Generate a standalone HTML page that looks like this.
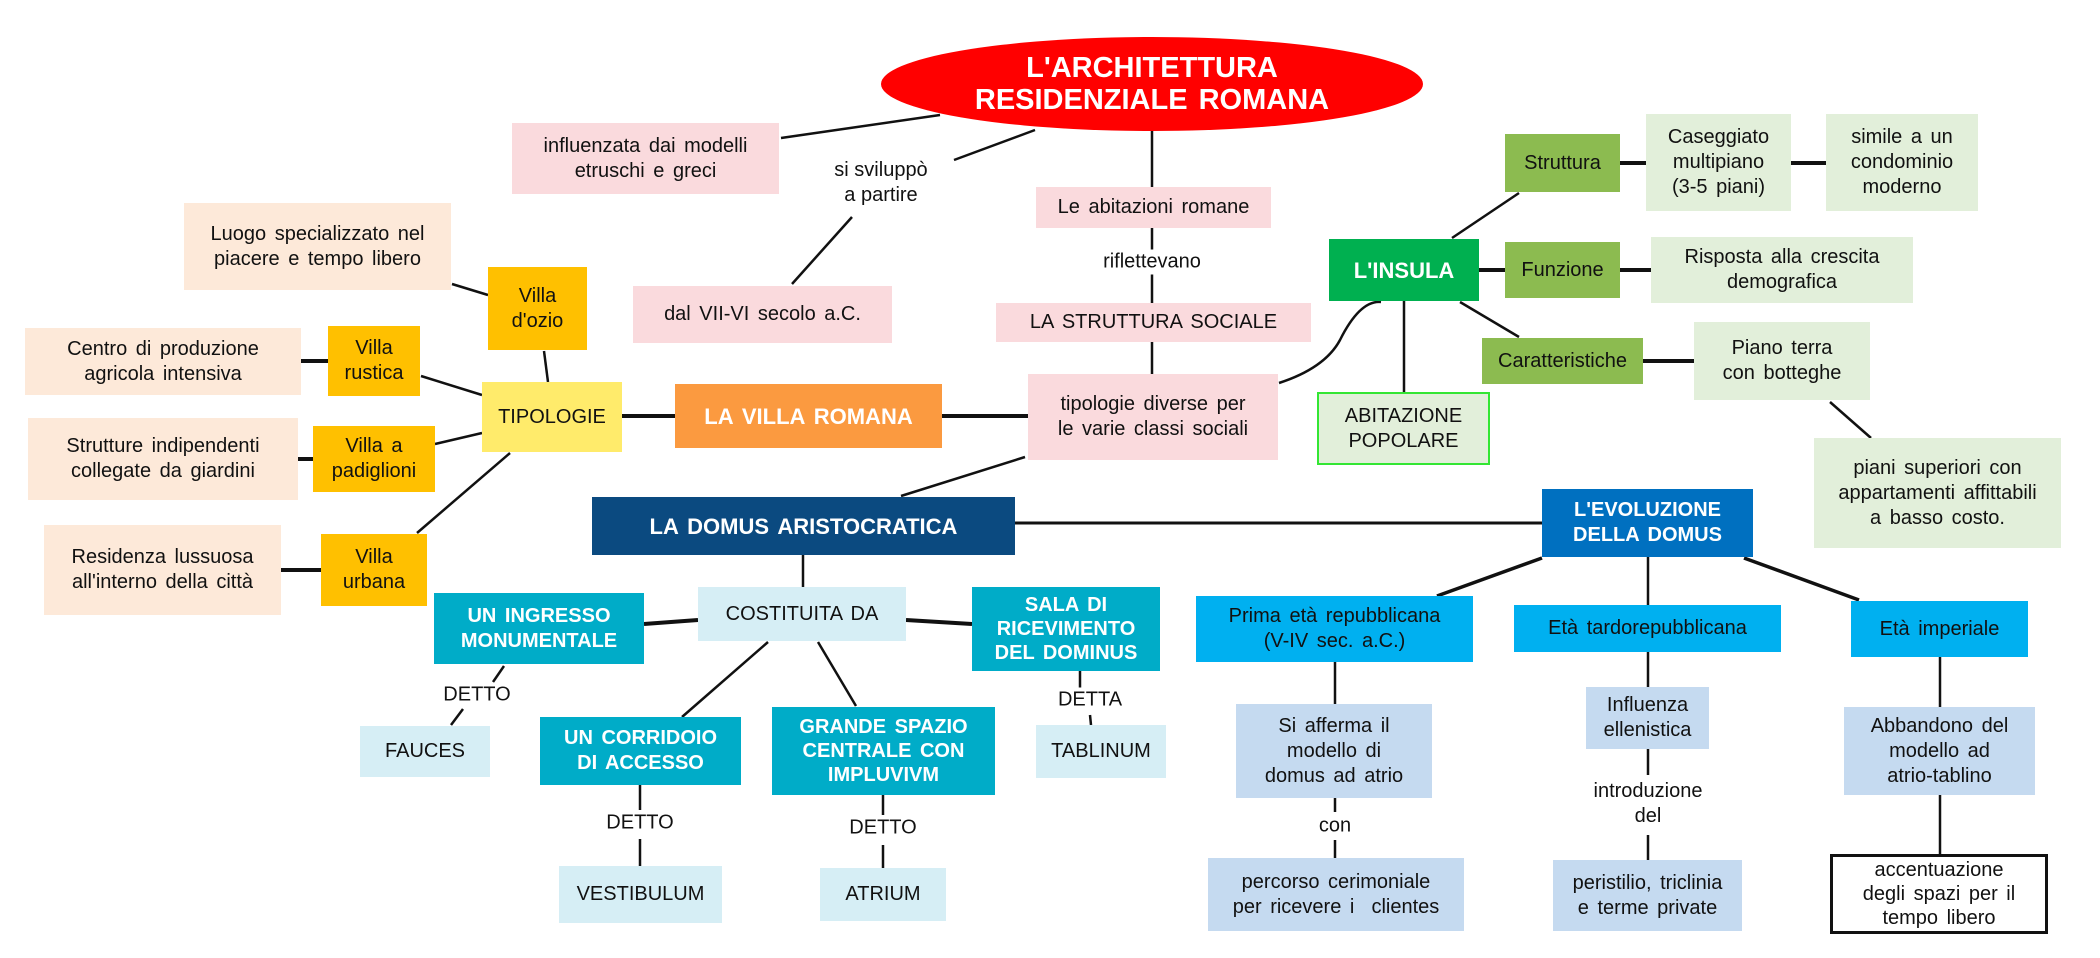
<!DOCTYPE html>
<html><head><meta charset="utf-8"><style>
*{margin:0;padding:0;box-sizing:border-box}
body{width:2100px;height:958px;background:#fff;position:relative;overflow:hidden;font-family:"Liberation Sans",sans-serif;color:#111}
.b{position:absolute;display:flex;align-items:center;justify-content:center;text-align:center;font-size:20px;line-height:25px;word-spacing:3px}
.w{color:#fff;font-weight:bold}
.t{position:absolute;text-align:center;font-size:20px;line-height:25px;background:#fff;transform:translate(-50%,-50%);white-space:nowrap}
.pk{background:#fadadd}.pe{background:#fde9d9}.yo{background:#ffc000}
.tl{background:#00acc8}.lb{background:#d6eef5}.pg{background:#e2efda}.gr{background:#8cbb50}
.cy{background:#00b0f0}.pb{background:#c5daf0}
svg{position:absolute;left:0;top:0}
</style></head><body>
<svg width="2100" height="958" stroke="#111" stroke-width="2.5" fill="none">
<line x1="940" y1="115" x2="781" y2="138"/>
<line x1="1035" y1="130" x2="954" y2="160"/>
<line x1="852" y1="217" x2="792" y2="284"/>
<line x1="1152" y1="130" x2="1152" y2="374"/>
<line x1="452" y1="284" x2="488" y2="295"/>
<line x1="544" y1="351" x2="548" y2="382"/>
<line x1="301" y1="361" x2="328" y2="361" stroke-width="4"/>
<line x1="421" y1="376" x2="482" y2="395"/>
<line x1="622" y1="416" x2="675" y2="416" stroke-width="4"/>
<line x1="942" y1="416" x2="1028" y2="416" stroke-width="4"/>
<line x1="435" y1="444" x2="482" y2="433"/>
<line x1="298" y1="459" x2="313" y2="459" stroke-width="4"/>
<line x1="510" y1="453" x2="417" y2="533"/>
<line x1="281" y1="570" x2="321" y2="570" stroke-width="4"/>
<line x1="1025" y1="457" x2="901" y2="496"/>
<line x1="803" y1="555" x2="803" y2="587"/>
<line x1="698" y1="620" x2="644" y2="624" stroke-width="4"/>
<line x1="906" y1="620" x2="972" y2="624" stroke-width="4"/>
<line x1="768" y1="642" x2="682" y2="717"/>
<line x1="818" y1="642" x2="856" y2="706"/>
<line x1="504" y1="666" x2="493" y2="682"/>
<line x1="463" y1="709" x2="451" y2="725"/>
<line x1="640" y1="785" x2="640" y2="810"/><line x1="640" y1="839" x2="640" y2="866"/>
<line x1="883" y1="795" x2="883" y2="815"/><line x1="883" y1="845" x2="883" y2="868"/>
<line x1="1080" y1="671" x2="1080" y2="688"/><line x1="1090" y1="715" x2="1091" y2="725"/>
<path d="M1279 383 Q1325 368 1340 340 Q1360 300 1381 302"/>
<line x1="1452" y1="238" x2="1519" y2="193"/>
<line x1="1479" y1="270" x2="1505" y2="270" stroke-width="4"/>
<line x1="1620" y1="163" x2="1646" y2="163" stroke-width="4"/>
<line x1="1791" y1="163" x2="1826" y2="163" stroke-width="4"/>
<line x1="1620" y1="270" x2="1651" y2="270" stroke-width="4"/>
<line x1="1460" y1="302" x2="1519" y2="337"/>
<line x1="1643" y1="361" x2="1694" y2="361" stroke-width="4"/>
<line x1="1404" y1="301" x2="1404" y2="392"/>
<line x1="1830" y1="402" x2="1871" y2="438"/>
<line x1="1015" y1="523" x2="1542" y2="523" stroke-width="3"/>
<line x1="1542" y1="558" x2="1437" y2="596" stroke-width="3.5"/>
<line x1="1744" y1="558" x2="1859" y2="600" stroke-width="3.5"/>
<line x1="1648" y1="557" x2="1648" y2="605"/>
<line x1="1335" y1="662" x2="1335" y2="704"/><line x1="1335" y1="798" x2="1335" y2="812"/><line x1="1335" y1="840" x2="1335" y2="858"/>
<line x1="1648" y1="652" x2="1648" y2="687"/><line x1="1648" y1="749" x2="1648" y2="775"/><line x1="1648" y1="835" x2="1648" y2="860"/>
<line x1="1940" y1="657" x2="1940" y2="707"/><line x1="1940" y1="795" x2="1940" y2="854"/>
<ellipse cx="1152" cy="84" rx="271" ry="47" fill="#ff0000" stroke="none"/>
</svg>
<div class="b w" style="left:881px;top:37px;width:542px;height:94px;font-size:29px;line-height:32px">L'ARCHITETTURA<br>RESIDENZIALE ROMANA</div>

<div class="b pk" style="left:512px;top:123px;width:267px;height:71px">influenzata dai modelli<br>etruschi e greci</div>
<div class="t" style="left:881px;top:183px">si sviluppò<br>a partire</div>
<div class="b pk" style="left:633px;top:286px;width:259px;height:57px">dal VII-VI secolo a.C.</div>
<div class="b pk" style="left:1036px;top:187px;width:235px;height:41px">Le abitazioni romane</div>
<div class="t" style="left:1152px;top:262px">riflettevano</div>
<div class="b pk" style="left:996px;top:303px;width:315px;height:39px">LA STRUTTURA SOCIALE</div>
<div class="b pk" style="left:1028px;top:374px;width:250px;height:86px">tipologie diverse per<br>le varie classi sociali</div>

<div class="b pe" style="left:184px;top:203px;width:267px;height:87px">Luogo specializzato nel<br>piacere e tempo libero</div>
<div class="b yo" style="left:488px;top:267px;width:99px;height:83px">Villa<br>d'ozio</div>
<div class="b pe" style="left:25px;top:328px;width:276px;height:67px">Centro di produzione<br>agricola intensiva</div>
<div class="b yo" style="left:328px;top:326px;width:92px;height:70px">Villa<br>rustica</div>
<div class="b" style="left:482px;top:382px;width:140px;height:70px;background:#ffeb6b">TIPOLOGIE</div>
<div class="b w" style="left:675px;top:384px;width:267px;height:64px;background:#fb9a40;font-size:22px">LA VILLA ROMANA</div>
<div class="b pe" style="left:28px;top:418px;width:270px;height:82px">Strutture indipendenti<br>collegate da giardini</div>
<div class="b yo" style="left:313px;top:426px;width:122px;height:66px">Villa a<br>padiglioni</div>
<div class="b pe" style="left:44px;top:525px;width:237px;height:90px">Residenza lussuosa<br>all'interno della città</div>
<div class="b yo" style="left:321px;top:534px;width:106px;height:72px">Villa<br>urbana</div>

<div class="b w" style="left:592px;top:497px;width:423px;height:58px;background:#0b4a80;font-size:22px">LA DOMUS ARISTOCRATICA</div>
<div class="b lb" style="left:698px;top:587px;width:208px;height:54px">COSTITUITA DA</div>
<div class="b w tl" style="left:434px;top:593px;width:210px;height:71px">UN INGRESSO<br>MONUMENTALE</div>
<div class="b w tl" style="left:972px;top:587px;width:188px;height:84px;line-height:24px">SALA DI<br>RICEVIMENTO<br>DEL DOMINUS</div>
<div class="t" style="left:477px;top:695px">DETTO</div>
<div class="b lb" style="left:360px;top:726px;width:130px;height:51px">FAUCES</div>
<div class="b w tl" style="left:540px;top:717px;width:201px;height:68px">UN CORRIDOIO<br>DI ACCESSO</div>
<div class="b w tl" style="left:772px;top:707px;width:223px;height:88px;line-height:24px">GRANDE SPAZIO<br>CENTRALE CON<br>IMPLUVIVM</div>
<div class="t" style="left:640px;top:823px">DETTO</div>
<div class="t" style="left:883px;top:828px">DETTO</div>
<div class="t" style="left:1090px;top:700px">DETTA</div>
<div class="b lb" style="left:559px;top:866px;width:163px;height:57px">VESTIBULUM</div>
<div class="b lb" style="left:820px;top:868px;width:126px;height:53px">ATRIUM</div>
<div class="b lb" style="left:1036px;top:725px;width:130px;height:53px">TABLINUM</div>

<div class="b w" style="left:1329px;top:239px;width:150px;height:62px;background:#00b050;font-size:22px">L'INSULA</div>
<div class="b gr" style="left:1505px;top:134px;width:115px;height:58px">Struttura</div>
<div class="b pg" style="left:1646px;top:114px;width:145px;height:97px">Caseggiato<br>multipiano<br>(3-5 piani)</div>
<div class="b pg" style="left:1826px;top:114px;width:152px;height:97px">simile a un<br>condominio<br>moderno</div>
<div class="b gr" style="left:1505px;top:242px;width:115px;height:56px">Funzione</div>
<div class="b pg" style="left:1651px;top:237px;width:262px;height:66px">Risposta alla crescita<br>demografica</div>
<div class="b gr" style="left:1482px;top:338px;width:161px;height:46px">Caratteristiche</div>
<div class="b pg" style="left:1694px;top:322px;width:176px;height:78px">Piano terra<br>con botteghe</div>
<div class="b pg" style="left:1317px;top:392px;width:173px;height:73px;border:2px solid #33e633">ABITAZIONE<br>POPOLARE</div>
<div class="b pg" style="left:1814px;top:438px;width:247px;height:110px">piani superiori con<br>appartamenti affittabili<br>a basso costo.</div>

<div class="b w" style="left:1542px;top:489px;width:211px;height:68px;background:#0070c0">L'EVOLUZIONE<br>DELLA DOMUS</div>
<div class="b cy" style="left:1196px;top:596px;width:277px;height:66px">Prima età repubblicana<br>(V-IV sec. a.C.)</div>
<div class="b cy" style="left:1514px;top:605px;width:267px;height:47px">Età tardorepubblicana</div>
<div class="b cy" style="left:1851px;top:601px;width:177px;height:56px">Età imperiale</div>
<div class="b pb" style="left:1236px;top:704px;width:196px;height:94px">Si afferma il<br>modello di<br>domus ad atrio</div>
<div class="t" style="left:1335px;top:826px">con</div>
<div class="b pb" style="left:1208px;top:858px;width:256px;height:73px">percorso cerimoniale<br>per ricevere i &nbsp;clientes</div>
<div class="b pb" style="left:1586px;top:687px;width:123px;height:62px">Influenza<br>ellenistica</div>
<div class="t" style="left:1648px;top:804px">introduzione<br>del</div>
<div class="b pb" style="left:1553px;top:860px;width:189px;height:71px">peristilio, triclinia<br>e terme private</div>
<div class="b pb" style="left:1844px;top:707px;width:191px;height:88px">Abbandono del<br>modello ad<br>atrio-tablino</div>
<div class="b" style="left:1830px;top:854px;width:218px;height:80px;border:3px solid #111;background:#fff;line-height:24px">accentuazione<br>degli spazi per il<br>tempo libero</div>
</body></html>
